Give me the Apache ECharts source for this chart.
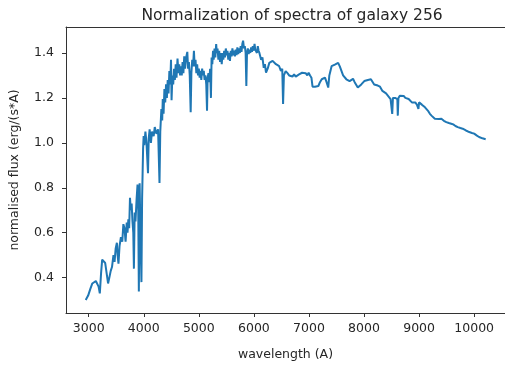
<!DOCTYPE html>
<html>
<head>
<meta charset="utf-8">
<script src="https://cdn.jsdelivr.net/npm/echarts@6/dist/echarts.min.js"></script>
<style>
  html, body { margin: 0; padding: 0; background: #fff; }
  #chart { width: 505px; height: 366px; }
</style>
</head>
<body>
<div id="chart"></div>
<script>
// wavelength (A)
const wavelength = [
  2946, 2990, 3030, 3066, 3100, 3130, 3155, 3180, 3202, 3225, 3245, 3270, 3300, 3334, 3352, 3375,
  3400, 3423, 3450, 3470, 3490, 3512, 3525, 3541, 3560, 3585, 3610, 3630, 3650, 3670, 3691, 3705,
  3720, 3735, 3750, 3765, 3780, 3795, 3810, 3821, 3835, 3850, 3870, 3887, 3900, 3911, 3925, 3940,
  3958, 3970, 3988, 3998, 4010, 4030, 4050, 4077, 4090, 4107, 4130, 4150, 4180, 4200, 4230, 4260,
  4286, 4300, 4320, 4335, 4345, 4360, 4375, 4390, 4405, 4420, 4435, 4450, 4465, 4480, 4495, 4505,
  4520, 4535, 4550, 4565, 4580, 4595, 4613, 4630, 4645, 4660, 4673, 4690, 4705, 4720, 4735, 4750,
  4770, 4791, 4805, 4820, 4835, 4852, 4865, 4880, 4895, 4911, 4925, 4940, 4955, 4970, 4985, 5000,
  5015, 5030, 5045, 5060, 5075, 5090, 5105, 5120, 5135, 5149, 5160, 5175, 5190, 5205, 5220, 5232,
  5245, 5258, 5270, 5285, 5300, 5315, 5327, 5340, 5355, 5370, 5385, 5400, 5416, 5430, 5445, 5460,
  5475, 5490, 5505, 5520, 5535, 5550, 5565, 5580, 5595, 5610, 5625, 5640, 5655, 5670, 5685, 5700,
  5715, 5730, 5745, 5760, 5775, 5790, 5804, 5820, 5835, 5850, 5863, 5875, 5890, 5905, 5920, 5935,
  5950, 5965, 5980, 5995, 6012, 6025, 6040, 6055, 6071, 6085, 6100, 6131, 6155, 6179, 6200, 6220,
  6250, 6280, 6310, 6340, 6370, 6400, 6430, 6459, 6490, 6515, 6530, 6545, 6577, 6610, 6640, 6666,
  6700, 6730, 6760, 6786, 6820, 6850, 6875, 6910, 6940, 6970, 6994, 7020, 7045, 7065, 7083, 7110,
  7140, 7171, 7200, 7232, 7260, 7291, 7320, 7350, 7370, 7390, 7411, 7440, 7470, 7500, 7530, 7560,
  7590, 7620, 7650, 7679, 7710, 7738, 7770, 7800, 7830, 7857, 7887, 7916, 7950, 7976, 8005, 8040,
  8070, 8100, 8125, 8160, 8184, 8214, 8250, 8290, 8334, 8370, 8400, 8423, 8450, 8482, 8500, 8512,
  8525, 8545, 8565, 8590, 8605, 8613, 8625, 8650, 8680, 8720, 8750, 8780, 8810, 8840, 8869, 8900,
  8930, 8960, 8980, 8988, 9000, 9018, 9050, 9080, 9107, 9140, 9170, 9196, 9230, 9260, 9286, 9320,
  9360, 9405, 9450, 9494, 9540, 9583, 9620, 9660, 9702, 9750, 9791, 9850, 9911, 9960, 10000, 10050,
  10089, 10150, 10209
];

// normalised flux, same order as wavelength
const flux = [
  0.300, 0.320, 0.350, 0.374, 0.370, 0.385, 0.378, 0.360, 0.330, 0.420, 0.480, 0.475, 0.465, 0.460, 0.374, 0.400,
  0.430, 0.447, 0.500, 0.470, 0.530, 0.555, 0.500, 0.462, 0.540, 0.580, 0.560, 0.638, 0.620, 0.560, 0.645, 0.600,
  0.660, 0.620, 0.755, 0.700, 0.730, 0.650, 0.600, 0.440, 0.690, 0.650, 0.750, 0.814, 0.700, 0.338, 0.820, 0.600,
  0.380, 0.750, 0.975, 1.030, 0.990, 1.050, 1.000, 0.865, 1.020, 1.060, 1.000, 1.050, 1.030, 1.070, 1.040, 1.060,
  0.821, 1.050, 1.150, 1.100, 1.195, 1.130, 1.240, 1.180, 1.260, 1.200, 1.280, 1.220, 1.320, 1.260, 1.370, 1.190,
  1.300, 1.260, 1.330, 1.280, 1.350, 1.290, 1.375, 1.310, 1.350, 1.300, 1.340, 1.300, 1.360, 1.310, 1.385, 1.330,
  1.380, 1.405, 1.330, 1.360, 1.300, 1.136, 1.310, 1.370, 1.340, 1.410, 1.340, 1.370, 1.310, 1.350, 1.300, 1.330,
  1.290, 1.320, 1.280, 1.330, 1.300, 1.320, 1.280, 1.300, 1.260, 1.143, 1.290, 1.310, 1.270, 1.330, 1.200, 1.380,
  1.350, 1.410, 1.370, 1.420, 1.380, 1.440, 1.400, 1.420, 1.370, 1.410, 1.360, 1.400, 1.350, 1.400, 1.370, 1.410,
  1.380, 1.420, 1.390, 1.410, 1.370, 1.400, 1.365, 1.410, 1.385, 1.420, 1.390, 1.410, 1.385, 1.415, 1.390, 1.425,
  1.395, 1.420, 1.400, 1.430, 1.405, 1.440, 1.455, 1.420, 1.430, 1.400, 1.253, 1.400, 1.420, 1.395, 1.415, 1.400,
  1.425, 1.405, 1.430, 1.410, 1.440, 1.415, 1.420, 1.400, 1.430, 1.410, 1.400, 1.370, 1.380, 1.334, 1.350, 1.312,
  1.330, 1.356, 1.350, 1.365, 1.363, 1.350, 1.345, 1.341, 1.320, 1.330, 1.173, 1.300, 1.319, 1.310, 1.300, 1.305,
  1.295, 1.305, 1.295, 1.297, 1.305, 1.300, 1.312, 1.305, 1.310, 1.300, 1.312, 1.300, 1.290, 1.250, 1.242, 1.250,
  1.248, 1.253, 1.270, 1.283, 1.275, 1.290, 1.270, 1.246, 1.300, 1.320, 1.341, 1.340, 1.348, 1.352, 1.356, 1.340,
  1.320, 1.300, 1.295, 1.283, 1.285, 1.275, 1.280, 1.285, 1.270, 1.268, 1.246, 1.239, 1.260, 1.268, 1.275, 1.278,
  1.280, 1.282, 1.283, 1.275, 1.260, 1.260, 1.255, 1.250, 1.231, 1.225, 1.220, 1.217, 1.205, 1.195, 1.190, 1.129,
  1.200, 1.205, 1.200, 1.205, 1.195, 1.121, 1.200, 1.210, 1.205, 1.209, 1.200, 1.200, 1.195, 1.190, 1.180, 1.185,
  1.180, 1.170, 1.175, 1.151, 1.180, 1.180, 1.170, 1.165, 1.158, 1.150, 1.140, 1.129, 1.120, 1.115, 1.107, 1.108,
  1.106, 1.107, 1.098, 1.092, 1.088, 1.085, 1.082, 1.075, 1.070, 1.066, 1.063, 1.055, 1.048, 1.044, 1.041, 1.032,
  1.026, 1.020, 1.016
];

// tick labels
const xTicks = [3000, 4000, 5000, 6000, 7000, 8000, 9000, 10000];
const yTicks = [0.4, 0.6, 0.8, 1.0, 1.2, 1.4];

const chart = echarts.init(document.getElementById('chart'));

const textColor = '#262626';
const spineColor = '#333';

const option = {
  animation: false,
  backgroundColor: '#fff',
  title: {
    text: 'Normalization of spectra of galaxy 256',
    left: 287,
    textAlign: 'center',
    top: 3,
    textStyle: { fontFamily: 'DejaVu Sans', fontSize: 15.5, fontWeight: 'normal', color: textColor }
  },
  grid: { left: 65, top: 27, width: 446, height: 291 },
  xAxis: [{
    type: 'value',
    min: 2588,
    max: 10560,
    name: 'wavelength (A)',
    nameLocation: 'middle',
    nameGap: 35,
    nameTextStyle: { fontFamily: 'DejaVu Sans', fontSize: 12.5, color: textColor },
    axisLine: { show: true, lineStyle: { color: spineColor, width: 1 } },
    axisTick: { show: true, inside: false, length: 4, customValues: xTicks, lineStyle: { color: spineColor } },
    axisLabel: {
      customValues: xTicks,
      margin: 9,
      fontFamily: 'DejaVu Sans', fontSize: 12.5, color: textColor,
      formatter: v => String(v)
    },
    splitLine: { show: false }
  }, {
    type: 'value',
    position: 'top',
    min: 2588,
    max: 10560,
    axisLine: { show: true, onZero: false, lineStyle: { color: spineColor, width: 1 } },
    axisTick: { show: false },
    axisLabel: { show: false },
    splitLine: { show: false }
  }],
  yAxis: {
    type: 'value',
    min: 0.2425,
    max: 1.5156,
    name: 'normalised flux (erg/(s*A)',
    nameLocation: 'middle',
    nameGap: 45,
    nameTextStyle: { fontFamily: 'DejaVu Sans', fontSize: 12.5, color: textColor },
    axisLine: { show: true, lineStyle: { color: spineColor, width: 1 } },
    axisTick: { show: true, inside: false, length: 4, customValues: yTicks, lineStyle: { color: spineColor } },
    axisLabel: {
      customValues: yTicks,
      margin: 12,
      fontFamily: 'DejaVu Sans', fontSize: 12.5, color: textColor,
      formatter: v => v.toFixed(1)
    },
    splitLine: { show: false }
  },
  series: [{
    type: 'line',
    xAxisIndex: 0,
    data: wavelength.map((w, i) => [w, flux[i]]),
    showSymbol: false,
    lineStyle: { color: '#1f77b4', width: 2 },
    emphasis: { disabled: true }
  }]
};

chart.setOption(option);
</script>
</body>
</html>
